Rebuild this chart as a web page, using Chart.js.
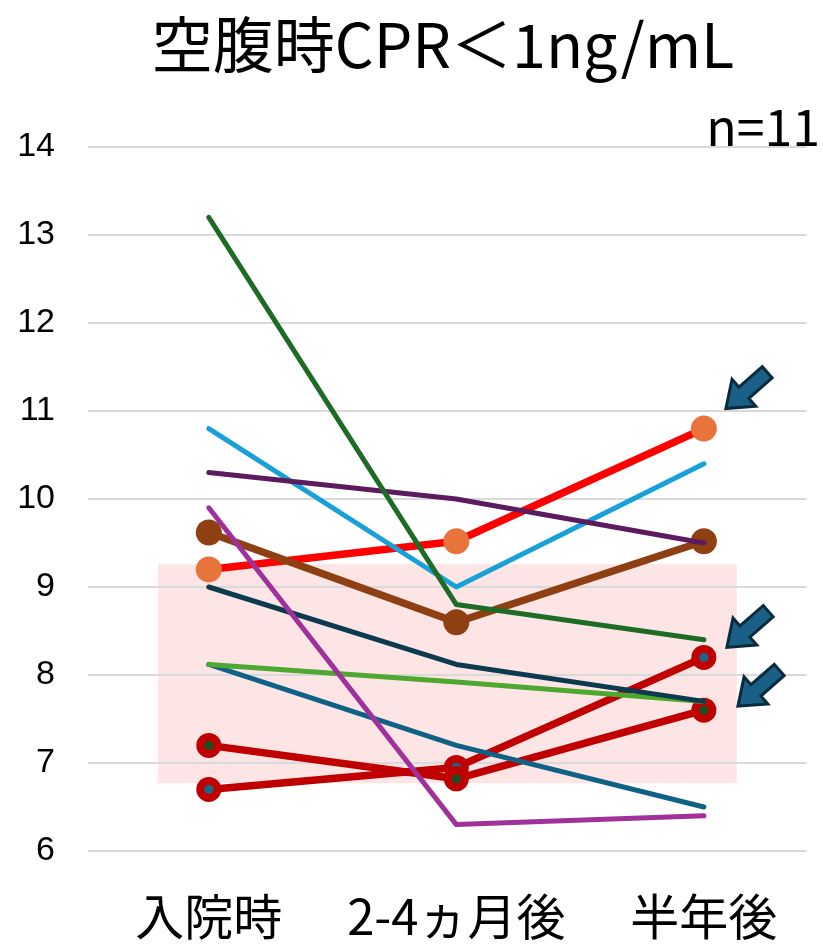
<!DOCTYPE html>
<html>
<head>
<meta charset="utf-8">
<script src="https://cdn.jsdelivr.net/npm/chart.js@4.4.1/dist/chart.umd.min.js"></script>
<style>
  html, body { margin: 0; padding: 0; background: #ffffff; }
  #wrap { width: 823px; height: 944px; }
</style>
</head>
<body>
<div id="wrap"><canvas id="c" width="823" height="944"></canvas></div>
<script>
// Time points and y-axis ticks
const categories = ['入院時', '2-4ヵ月後', '半年後'];
const yTicks = [6, 7, 8, 9, 10, 11, 12, 13, 14];

// One value per patient per time point
const seriesDarkGreen = [13.2, 8.8, 8.4];
const seriesSkyBlue   = [10.8, 9.0, 10.4];
const seriesPlum      = [10.3, 10.0, 9.5];
const seriesRed       = [9.2, 9.52, 10.8];
const seriesBrown     = [9.62, 8.6, 9.52];
const seriesMagenta   = [9.9, 6.3, 6.4];
const seriesNavy      = [9.0, 8.12, 7.7];
const seriesLime      = [8.12, 7.92, 7.7];
const seriesTeal      = [8.12, 7.2, 6.5];
const seriesCrimsonA  = [7.2, 6.82, 7.6];
const seriesCrimsonB  = [6.7, 6.95, 8.2];

// Shaded target range on the y axis
const targetRange = [6.77, 9.26];

const titleText = '空腹時CPR＜1ng/mL';
const countText = 'n=11';

const JP = '"Noto Sans CJK JP", "Noto Sans", sans-serif';

const toPoints = arr => arr.map((v, i) => ({ x: i, y: v }));

const thin = 5;
const thick = 7.5;

function plainLine(data, color, order) {
  return {
    data: toPoints(data), borderColor: color, borderWidth: thin,
    pointRadius: 0, borderCapStyle: 'round', borderJoinStyle: 'round',
    tension: 0, order
  };
}
function discLine(data, lineColor, dotColor, order) {
  return {
    data: toPoints(data), borderColor: lineColor, borderWidth: thick,
    pointRadius: 13, pointBackgroundColor: dotColor, pointBorderWidth: 0,
    pointBorderColor: dotColor, borderCapStyle: 'round', borderJoinStyle: 'round',
    tension: 0, order
  };
}
function ringLine(data, lineColor, coreColor, order) {
  return {
    data: toPoints(data), borderColor: lineColor, borderWidth: thick,
    pointRadius: 8.6, pointBorderWidth: 7.8, pointBorderColor: lineColor,
    pointBackgroundColor: coreColor, borderCapStyle: 'round', borderJoinStyle: 'round',
    tension: 0, order
  };
}

// Lower order value is painted on top
const datasets = [
  discLine(seriesRed, '#ff0000', '#e8743b', 12),
  discLine(seriesBrown, '#8e4013', '#8e4013', 11),
  ringLine(seriesCrimsonB, '#c00000', '#1f6485', 10),
  ringLine(seriesCrimsonA, '#c00000', '#1b4d1f', 9),
  plainLine(seriesTeal, '#0f6286', 8),
  plainLine(seriesLime, '#4ea72e', 7),
  plainLine(seriesNavy, '#0c3a4f', 6),
  plainLine(seriesSkyBlue, '#18a0d8', 5),
  plainLine(seriesPlum, '#5b1b5e', 4),
  plainLine(seriesDarkGreen, '#1d6b25', 3),
  plainLine(seriesMagenta, '#a0309a', 2)
];

// Shaded band behind the grid
const bandPlugin = {
  id: 'band',
  beforeDraw(chart, args, opts) {
    const { ctx, scales: { x, y } } = chart;
    const x0 = x.getPixelForValue(opts.xFrom), x1 = x.getPixelForValue(opts.xTo);
    const y0 = y.getPixelForValue(targetRange[1]), y1 = y.getPixelForValue(targetRange[0]);
    ctx.save();
    ctx.fillStyle = opts.color;
    ctx.fillRect(x0, y0, x1 - x0, y1 - y0);
    ctx.restore();
  }
};

// Arrows pointing at selected end points
const arrowPlugin = {
  id: 'arrows',
  afterDatasetsDraw(chart, args, opts) {
    const { ctx, scales: { x, y } } = chart;
    opts.items.forEach(a => {
      const px = x.getPixelForValue(a.index) + a.dx;
      const py = y.getPixelForValue(a.series[a.index]) + a.dy;
      const L = 55, HL = 24, HW = 36, SW = 15;
      ctx.save();
      ctx.translate(px, py);
      ctx.rotate(opts.angle);
      ctx.beginPath();
      ctx.moveTo(0, 0);
      ctx.lineTo(HL, -HW / 2);
      ctx.lineTo(HL, -SW / 2);
      ctx.lineTo(L, -SW / 2);
      ctx.lineTo(L, SW / 2);
      ctx.lineTo(HL, SW / 2);
      ctx.lineTo(HL, HW / 2);
      ctx.closePath();
      ctx.fillStyle = '#1a5f85';
      ctx.fill();
      ctx.lineWidth = 3;
      ctx.lineJoin = 'miter';
      ctx.strokeStyle = '#0b2a3c';
      ctx.stroke();
      ctx.restore();
    });
  }
};

// Title and sample size
const headingPlugin = {
  id: 'heading',
  afterDraw(chart) {
    const ctx = chart.ctx;
    ctx.save();
    ctx.fillStyle = '#000000';
    ctx.textBaseline = 'middle';
    ctx.font = '61px ' + JP;
    ctx.textAlign = 'center';
    ctx.fillText(titleText, 443, 45);
    ctx.font = '50px ' + JP;
    ctx.textAlign = 'right';
    ctx.fillText(countText, 820, 127);
    ctx.restore();
  }
};

new Chart(document.getElementById('c'), {
  type: 'line',
  data: { datasets },
  plugins: [bandPlugin, arrowPlugin, headingPlugin],
  options: {
    responsive: false,
    animation: false,
    devicePixelRatio: 1,
    layout: { padding: { top: 147, right: 15, left: 0, bottom: 0 } },
    elements: { line: { clip: false } },
    plugins: {
      legend: { display: false },
      tooltip: { enabled: false },
      band: { xFrom: -0.206, xTo: 2.133, color: '#fde5e5' },
      arrows: {
        angle: -0.72,
        items: [
          { series: seriesRed, index: 2, dx: 22, dy: -20 },
          { series: seriesCrimsonB, index: 2, dx: 23, dy: -10 },
          { series: seriesCrimsonA, index: 2, dx: 34, dy: -4 }
        ]
      }
    },
    scales: {
      x: {
        type: 'linear',
        min: -0.488,
        max: 2.415,
        afterBuildTicks: s => { s.ticks = categories.map((_, i) => ({ value: i })); },
        afterFit: s => { s.height = 93; },
        grid: { display: false, drawTicks: false },
        border: { display: false },
        ticks: {
          callback: v => categories[v],
          color: '#000000',
          padding: 36,
          maxRotation: 0,
          autoSkip: false,
          font: { family: JP, size: 49 }
        }
      },
      y: {
        min: 6,
        max: 14,
        afterBuildTicks: s => { s.ticks = yTicks.map(v => ({ value: v })); },
        afterFit: s => { s.width = 88; },
        grid: { color: '#d9d9d9', lineWidth: 2, drawTicks: false },
        border: { display: false },
        ticks: {
          color: '#000000',
          padding: 33,
          font: { family: '"Liberation Sans", Arial, sans-serif', size: 34 }
        }
      }
    }
  }
});
</script>
</body>
</html>
